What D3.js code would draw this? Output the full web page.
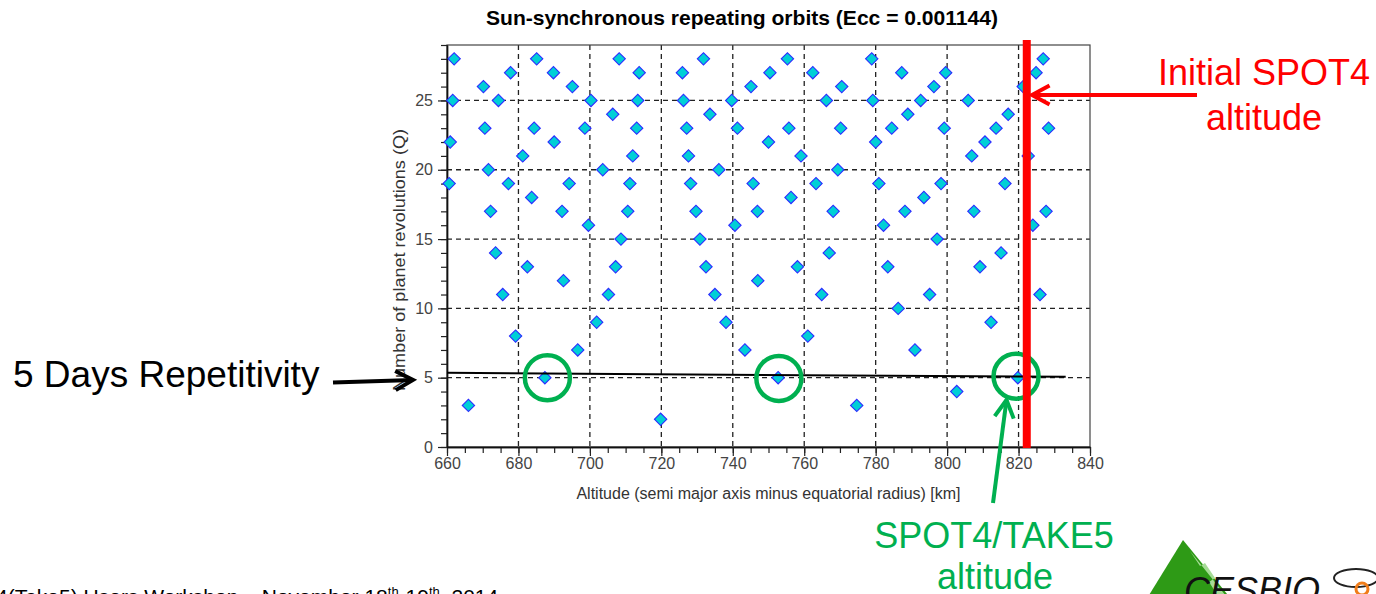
<!DOCTYPE html>
<html>
<head>
<meta charset="utf-8">
<script src="https://cdn.jsdelivr.net/npm/d3@7"></script>
<style>
  html, body { margin: 0; padding: 0; background: #fff; }
  svg { display: block; }
  text { font-family: "Liberation Sans", Arial, sans-serif; }
</style>
</head>
<body>
<svg id="chart" width="1376" height="594"></svg>
<script>
// ---------------- DATA ----------------
const title = "Sun-synchronous repeating orbits (Ecc = 0.001144)";
const xLabel = "Altitude (semi major axis minus equatorial radius) [km]";
const yLabel = "Number of planet revolutions (Q)";
const xTicks = [660, 680, 700, 720, 740, 760, 780, 800, 820, 840];
const yTicks = [0, 5, 10, 15, 20, 25];

// altitude (km) of each repeating orbit, grouped by Q
const altitude = [
  662.0, 685.1, 708.2, 731.8, 755.3, 778.9, 826.9,                                   // Q28
  677.8, 689.8, 713.8, 725.9, 750.4, 762.4, 787.3, 799.6, 824.9,                     // Q27
  670.2, 695.1, 745.1, 770.5, 796.3, 821.3,                                          // Q26
  661.6, 674.4, 700.3, 713.4, 726.2, 739.7, 766.2, 779.2, 792.6, 805.9,              // Q25
  706.4, 733.6, 789.0, 817.1,                                                        // Q24
  670.6, 684.4, 698.6, 713.1, 727.1, 741.3, 755.7, 770.2, 784.5, 799.2, 813.7, 828.4,// Q23
  660.9, 690.0, 750.0, 780.0, 810.6,                                                 // Q22
  681.2, 712.0, 727.6, 759.1, 806.9, 822.7,                                          // Q21
  671.6, 703.6, 736.1, 769.4,                                                        // Q20
  660.6, 677.2, 694.2, 711.2, 728.2, 745.7, 763.3, 780.9, 798.3, 816.2,              // Q19
  683.7, 756.3, 793.5,                                                               // Q18
  672.2, 692.2, 710.6, 729.7, 746.9, 768.1, 788.2, 807.5, 827.7,                     // Q17
  699.6, 740.6, 782.2, 824.0,                                                        // Q16
  708.7, 730.8, 797.2,                                                               // Q15
  673.6, 767.0, 815.1,                                                               // Q14
  682.5, 707.2, 732.5, 758.1, 783.4, 809.2,                                          // Q13
  692.6, 747.0,                                                                      // Q12
  675.6, 705.2, 735.0, 764.9, 795.1, 826.0,                                          // Q11
  786.3,                                                                             // Q10
  701.9, 738.1, 812.3,                                                               // Q9
  679.2, 761.0,                                                                      // Q8
  696.6, 743.4, 791.0,                                                               // Q7
  687.4, 752.7, 819.8,                                                               // Q5
  802.7,                                                                             // Q4
  666.0, 774.7,                                                                      // Q3
  719.8                                                                              // Q2
];
const revolutions = [
  28,28,28,28,28,28,28,
  27,27,27,27,27,27,27,27,27,
  26,26,26,26,26,26,
  25,25,25,25,25,25,25,25,25,25,
  24,24,24,24,
  23,23,23,23,23,23,23,23,23,23,23,23,
  22,22,22,22,22,
  21,21,21,21,21,21,
  20,20,20,20,
  19,19,19,19,19,19,19,19,19,19,
  18,18,18,
  17,17,17,17,17,17,17,17,17,
  16,16,16,16,
  15,15,15,
  14,14,14,
  13,13,13,13,13,13,
  12,12,
  11,11,11,11,11,11,
  10,
  9,9,9,
  8,8,
  7,7,7,
  5,5,5,
  4,
  3,3,
  2
];

// annotations (data units)
const spot4InitialAltitude = 822.3;
const repeatLineAlt = [660, 833.2];
const repeatLineQ = [5.35, 5.06];
const fiveDayCircleAlt = [688.1, 752.9, 819.3];
const fiveDayCircleQ = [5.0, 4.95, 5.1];

// ---------------- CHART ----------------
const svg = d3.select("#chart");
const pLeft = 447, pRight = 1090, pTop = 45, pBottom = 447;
const x = d3.scaleLinear().domain([660, 840]).range([pLeft, pRight]);
const y = d3.scaleLinear().domain([0, 29]).range([pBottom, pTop]);

// title
svg.append("text")
  .attr("x", 742).attr("y", 25)
  .attr("text-anchor", "middle")
  .attr("font-size", 21).attr("font-weight", "bold")
  .attr("textLength", 512).attr("lengthAdjust", "spacingAndGlyphs")
  .text(title);

// grid
const grid = svg.append("g").attr("stroke", "#222").attr("stroke-width", 1.3)
  .attr("stroke-dasharray", "5,4");
grid.selectAll("line.v").data(xTicks.filter(t => t > 660 && t < 840)).join("line")
  .attr("class", "v")
  .attr("x1", d => x(d)).attr("x2", d => x(d)).attr("y1", pTop).attr("y2", pBottom);
grid.selectAll("line.h").data(yTicks.filter(t => t > 0)).join("line")
  .attr("class", "h")
  .attr("y1", d => y(d)).attr("y2", d => y(d)).attr("x1", pLeft).attr("x2", pRight);

// plot border
svg.append("rect").attr("x", pLeft).attr("y", pTop)
  .attr("width", pRight - pLeft).attr("height", pBottom - pTop)
  .attr("fill", "none").attr("stroke", "#444").attr("stroke-width", 1.2);

// axes
const xMinor = d3.axisBottom(x).tickValues(d3.range(660, 841, 5)).tickFormat("").tickSize(6).tickSizeOuter(0);
const xMajor = d3.axisBottom(x).tickValues(xTicks).tickSize(9).tickPadding(2).tickSizeOuter(0);
const yMinor = d3.axisLeft(y).tickValues(d3.range(0, 30, 1)).tickFormat("").tickSize(6).tickSizeOuter(0);
const yMajor = d3.axisLeft(y).tickValues(yTicks).tickSize(9).tickPadding(5).tickSizeOuter(0);

function styleAxis(g) {
  g.selectAll("path").attr("stroke", "#111").attr("stroke-width", 1.4);
  g.selectAll("line").attr("stroke", "#222").attr("stroke-width", 1.2);
  g.selectAll("text").attr("font-family", "Liberation Sans, Arial, sans-serif")
    .attr("font-size", 16).attr("fill", "#444");
}
svg.append("g").attr("transform", `translate(0,${pBottom})`).call(xMinor).call(styleAxis);
svg.append("g").attr("transform", `translate(0,${pBottom})`).call(xMajor).call(styleAxis);
svg.append("g").attr("transform", `translate(${pLeft},0)`).call(yMinor).call(styleAxis);
svg.append("g").attr("transform", `translate(${pLeft},0)`).call(yMajor).call(styleAxis);

// axis labels
svg.append("text")
  .attr("x", (pLeft + pRight) / 2).attr("y", 499)
  .attr("text-anchor", "middle").attr("font-size", 16).attr("fill", "#333")
  .text(xLabel);
svg.append("text")
  .attr("transform", "translate(405,260) rotate(-90)")
  .attr("text-anchor", "middle").attr("font-size", 17).attr("fill", "#333")
  .attr("textLength", 262).attr("lengthAdjust", "spacingAndGlyphs")
  .text(yLabel);

// points
const pts = altitude.map((a, i) => ({ a, q: revolutions[i] }));
const diamond = d3.symbol().type(d3.symbolSquare).size(76);
svg.append("g").selectAll("path").data(pts).join("path")
  .attr("d", diamond)
  .attr("transform", d => `translate(${x(d.a)},${y(d.q)}) rotate(45)`)
  .attr("fill", "#00cfd6").attr("stroke", "#2c2cff").attr("stroke-width", 1.1);

// 5-day repetitivity line
svg.append("line")
  .attr("x1", x(repeatLineAlt[0])).attr("y1", y(repeatLineQ[0]))
  .attr("x2", x(repeatLineAlt[1])).attr("y2", y(repeatLineQ[1]))
  .attr("stroke", "#000").attr("stroke-width", 2);

// green circles
svg.append("g").selectAll("circle").data(fiveDayCircleAlt).join("circle")
  .attr("cx", d => x(d)).attr("cy", (d, i) => y(fiveDayCircleQ[i]))
  .attr("r", 22.5).attr("fill", "none").attr("stroke", "#00b050").attr("stroke-width", 4.5);

// red vertical line (initial SPOT4 altitude)
svg.append("line")
  .attr("x1", x(spot4InitialAltitude)).attr("x2", x(spot4InitialAltitude))
  .attr("y1", pTop - 5).attr("y2", pBottom + 1)
  .attr("stroke", "#ff0000").attr("stroke-width", 8);

// arrows
function arrow(x1, y1, x2, y2, color, w) {
  const g = svg.append("g").attr("stroke", color).attr("stroke-width", w)
    .attr("fill", "none").attr("stroke-linecap", "butt");
  g.append("line").attr("x1", x1).attr("y1", y1).attr("x2", x2).attr("y2", y2);
  const ang = Math.atan2(y2 - y1, x2 - x1);
  const L = 20, spread = 0.5;
  const p1 = [x2 - L * Math.cos(ang - spread), y2 - L * Math.sin(ang - spread)];
  const p2 = [x2 - L * Math.cos(ang + spread), y2 - L * Math.sin(ang + spread)];
  g.append("path").attr("d", `M${p1}L${x2},${y2}L${p2}`).attr("stroke-linejoin", "miter");
}
arrow(1197, 95, 1032, 95, "#ff0000", 4);
arrow(993, 503, 1006.5, 400, "#00b050", 4);
arrow(333, 382.5, 413, 380, "#000", 4);

// annotation texts
svg.append("text").attr("x", 1264).attr("y", 85).attr("text-anchor", "middle")
  .attr("font-size", 36).attr("fill", "#ff0000").text("Initial SPOT4");
svg.append("text").attr("x", 1264).attr("y", 130).attr("text-anchor", "middle")
  .attr("font-size", 36).attr("fill", "#ff0000").text("altitude");
svg.append("text").attr("x", 994).attr("y", 548).attr("text-anchor", "middle")
  .attr("font-size", 36).attr("fill", "#00b050").text("SPOT4/TAKE5");
svg.append("text").attr("x", 995).attr("y", 589).attr("text-anchor", "middle")
  .attr("font-size", 36).attr("fill", "#00b050").text("altitude");
svg.append("text").attr("x", 13).attr("y", 387)
  .attr("font-size", 37).attr("fill", "#000").text("5 Days Repetitivity");

// footer
const foot = svg.append("text").attr("x", -4).attr("y", 604).attr("font-size", 21).attr("fill", "#000");
foot.append("tspan").text("4(Take5) Users Workshop \u2013 November 18");
foot.append("tspan").attr("font-size", 13).attr("dy", -8).text("th");
foot.append("tspan").attr("dy", 8).text("-19");
foot.append("tspan").attr("font-size", 13).attr("dy", -8).text("th");
foot.append("tspan").attr("dy", 8).text(", 2014");

// logo
const logo = svg.append("g");
logo.append("path").attr("d", "M1183,540 L1146,600 L1232,600 Z").attr("fill", "#2e9a16");
logo.append("path").attr("d", "M1190,551 L1200,566 L1205,563 L1215,578 L1209,582 L1218,596 L1226,596 Z")
  .attr("fill", "#a6dc96");
logo.append("text").attr("x", 1184).attr("y", 603).attr("font-size", 36)
  .attr("font-style", "italic").attr("font-family", "DejaVu Serif, serif")
  .attr("fill", "#111").text("CESBIO");
logo.append("ellipse").attr("cx", 1356).attr("cy", 578).attr("rx", 22).attr("ry", 9)
  .attr("fill", "none").attr("stroke", "#222").attr("stroke-width", 2);
logo.append("circle").attr("cx", 1362).attr("cy", 589).attr("r", 6)
  .attr("fill", "none").attr("stroke", "#f07d1a").attr("stroke-width", 3);
</script>
</body>
</html>
